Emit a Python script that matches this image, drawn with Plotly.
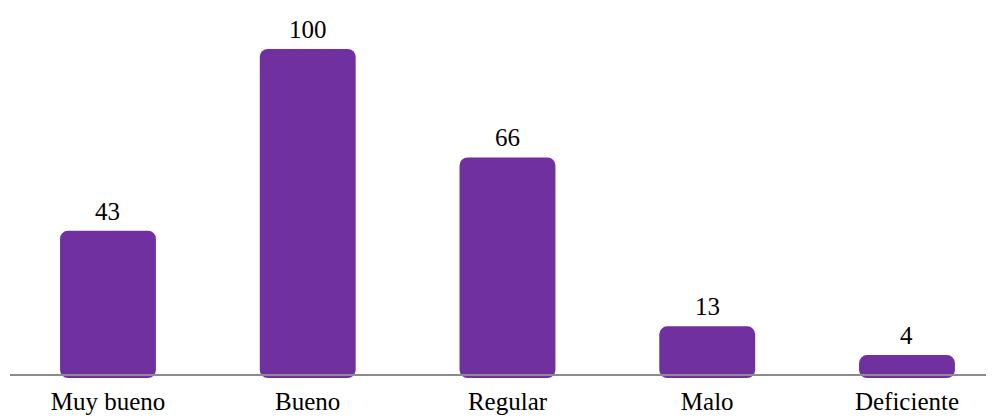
import plotly.graph_objects as go

# ---------------- data ----------------
categorias = ['Muy bueno', 'Bueno', 'Regular', 'Malo', 'Deficiente']
valores = [43, 100, 66, 13, 4]

FONT = 'Liberation Serif'
PURPLE = '#7030A0'
Y_MIN = -3.2  # axis starts slightly below zero, like the original sheet

fig = go.Figure()
fig.add_trace(go.Bar(
    x=categorias,
    y=[v - Y_MIN for v in valores],
    base=Y_MIN,
    width=0.48,
    marker=dict(color=PURPLE, cornerradius=8, line=dict(width=0)),
    hoverinfo='skip',
))

# value labels above each bar
for c, v in zip(categorias, valores):
    fig.add_annotation(x=c, y=v, text=str(v), showarrow=False,
                       yanchor='bottom', yshift=4,
                       font=dict(family=FONT, size=25, color='#000000'))

# baseline
fig.add_shape(type='line', xref='paper', yref='y', x0=0, x1=1,
              y0=-2.27, y1=-2.27, layer='above',
              line=dict(color='#8c8c8c', width=2))

# page body has an 8px margin, so the figure is a bit smaller than the window
fig.update_layout(
    width=986, height=411,
    margin=dict(l=2, r=0, t=0, b=41),
    plot_bgcolor='white', paper_bgcolor='white',
    showlegend=False,
    font=dict(family=FONT, size=25, color='#000000'),
    xaxis=dict(range=[-0.4905, 4.4356], showgrid=False, showline=False,
               zeroline=False, ticks='', tickfont=dict(family=FONT, size=25),
               ticklabelstandoff=6, automargin=False),
    yaxis=dict(range=[Y_MIN, 112.86], visible=False, showgrid=False,
               zeroline=False),
)

fig.write_html("out.html")
